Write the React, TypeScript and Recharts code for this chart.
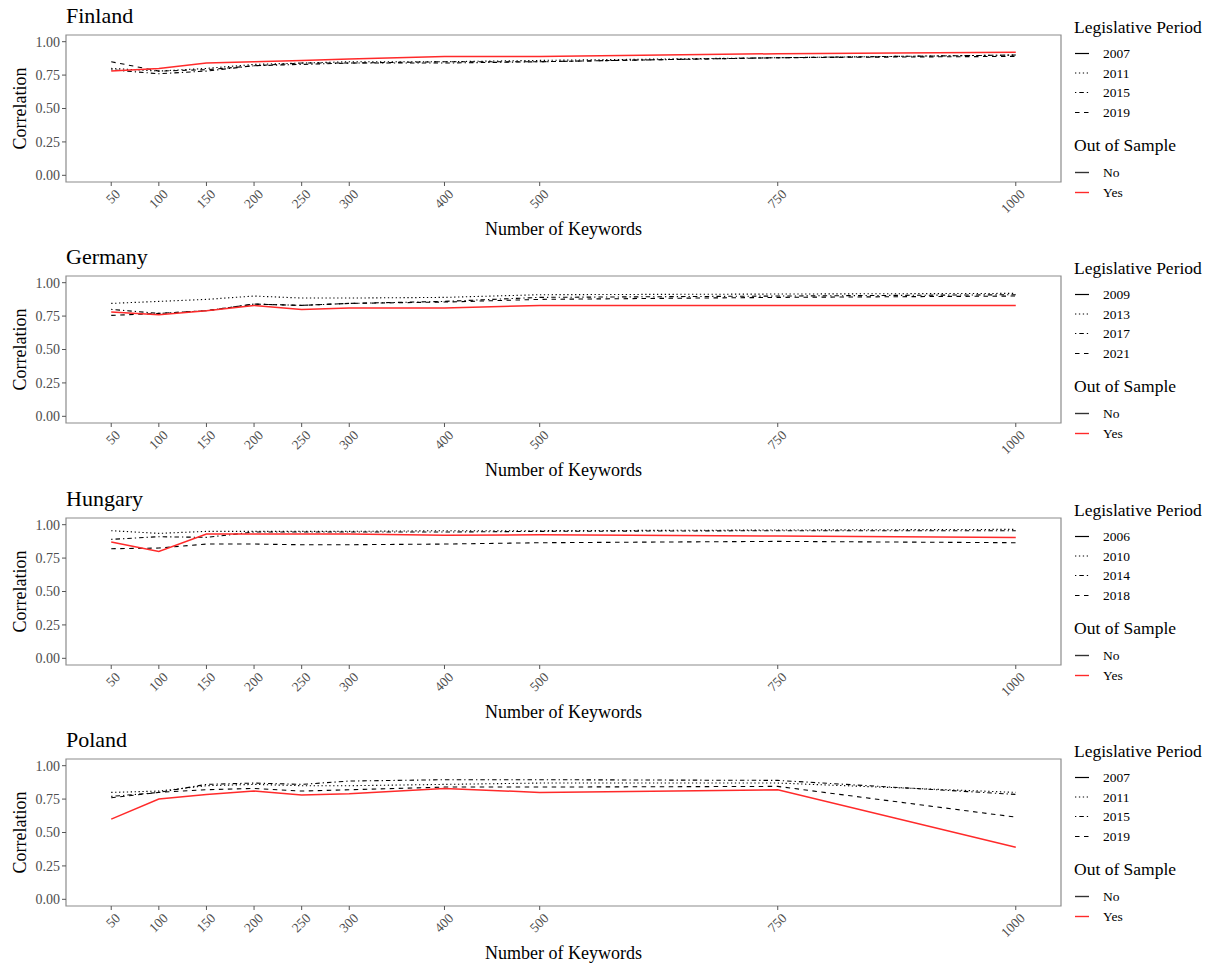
import React from "react";
import { LineChart, Line, XAxis, YAxis, ReferenceArea } from "recharts";

// Correlation by number of keywords, one panel per country.
const keywords = [50, 100, 150, 200, 250, 300, 400, 500, 750, 1000];
const yTicks = [0, 0.25, 0.5, 0.75, 1];

const finlandPeriods = ["2007", "2011", "2015", "2019"];
const finland2007 = [0.78, 0.8, 0.84, 0.85, 0.86, 0.87, 0.89, 0.89, 0.91, 0.92];
const finland2011 = [0.8, 0.78, 0.8, 0.83, 0.84, 0.85, 0.85, 0.86, 0.88, 0.9];
const finland2015 = [0.79, 0.76, 0.78, 0.82, 0.83, 0.84, 0.84, 0.85, 0.88, 0.9];
const finland2019 = [0.85, 0.78, 0.79, 0.82, 0.84, 0.84, 0.85, 0.85, 0.88, 0.89];

const germanyPeriods = ["2009", "2013", "2017", "2021"];
const germany2009 = [0.78, 0.76, 0.79, 0.83, 0.8, 0.81, 0.81, 0.83, 0.83, 0.83];
const germany2013 = [0.845, 0.86, 0.875, 0.9, 0.885, 0.885, 0.89, 0.91, 0.915, 0.92];
const germany2017 = [0.8, 0.77, 0.79, 0.84, 0.83, 0.845, 0.86, 0.89, 0.9, 0.91];
const germany2021 = [0.755, 0.77, 0.79, 0.84, 0.83, 0.845, 0.855, 0.875, 0.89, 0.9];

const hungaryPeriods = ["2006", "2010", "2014", "2018"];
const hungary2006 = [0.87, 0.8, 0.93, 0.93, 0.93, 0.93, 0.92, 0.925, 0.915, 0.905];
const hungary2010 = [0.955, 0.935, 0.95, 0.95, 0.95, 0.95, 0.955, 0.955, 0.96, 0.965];
const hungary2014 = [0.89, 0.91, 0.905, 0.945, 0.945, 0.945, 0.945, 0.95, 0.955, 0.955];
const hungary2018 = [0.82, 0.825, 0.855, 0.855, 0.85, 0.85, 0.855, 0.865, 0.875, 0.865];

const polandPeriods = ["2007", "2011", "2015", "2019"];
const poland2007 = [0.6, 0.75, 0.785, 0.81, 0.78, 0.79, 0.83, 0.8, 0.82, 0.39];
const poland2011 = [0.8, 0.81, 0.85, 0.86, 0.85, 0.85, 0.86, 0.87, 0.87, 0.8];
const poland2015 = [0.77, 0.8, 0.86, 0.87, 0.86, 0.885, 0.895, 0.895, 0.89, 0.785];
const poland2019 = [0.76, 0.8, 0.82, 0.83, 0.81, 0.82, 0.84, 0.84, 0.845, 0.615];

const panels = [
  { country: "Finland", periods: finlandPeriods, series: [finland2007, finland2011, finland2015, finland2019] },
  { country: "Germany", periods: germanyPeriods, series: [germany2009, germany2013, germany2017, germany2021] },
  { country: "Hungary", periods: hungaryPeriods, series: [hungary2006, hungary2010, hungary2014, hungary2018] },
  { country: "Poland", periods: polandPeriods, series: [poland2007, poland2011, poland2015, poland2019] },
];

const FONT = "'Liberation Serif', 'Times New Roman', serif";
const dashes = ["", "1.3 2.6", "1.3 3 4.5 3", "4.5 4.5"];
const panelTops = [0, 241, 483, 724];

function XTick(props: any) {
  const { x, y, payload } = props;
  return (
    <g transform={`translate(${x + 3},${y}) rotate(-45)`}>
      <text x={0} y={0} dy="0.72em" textAnchor="end" fontSize={13.5} fill="#4d4d4d" fontFamily={FONT}>
        {payload.value}
      </text>
    </g>
  );
}

function LegendBox({ periods }: { periods: string[] }) {
  const rowY = [53.5, 73, 92.5, 112.5];
  return (
    <svg width={147} height={210} style={{ position: "absolute", left: 1074, top: 0 }}>
      <text x={0} y={33} fontSize={17.5} fontFamily={FONT} fill="#000">Legislative Period</text>
      {periods.map((p, i) => (
        <g key={p}>
          <line x1={1} x2={15} y1={rowY[i]} y2={rowY[i]} stroke="#000" strokeWidth={1.2} strokeDasharray={dashes[i]} />
          <text x={29} y={rowY[i] + 4.5} fontSize={13.5} fontFamily={FONT} fill="#000">{p}</text>
        </g>
      ))}
      <text x={0} y={151} fontSize={17.5} fontFamily={FONT} fill="#000">Out of Sample</text>
      <line x1={1} x2={15} y1={172.5} y2={172.5} stroke="#333" strokeWidth={1.4} />
      <text x={29} y={177} fontSize={13.5} fontFamily={FONT} fill="#000">No</text>
      <line x1={1} x2={15} y1={192.5} y2={192.5} stroke="#ff2a2a" strokeWidth={1.4} />
      <text x={29} y={197} fontSize={13.5} fontFamily={FONT} fill="#000">Yes</text>
    </svg>
  );
}

function Panel({ country, periods, series, top }: any) {
  const data = keywords.map((k, i) => ({
    k,
    p0: series[0][i],
    p1: series[1][i],
    p2: series[2][i],
    p3: series[3][i],
  }));
  return (
    <div style={{ position: "absolute", left: 0, top, width: 1221, height: 241 }}>
      <div style={{ position: "absolute", left: 66, top: 3, fontFamily: FONT, fontSize: 22, color: "#000", lineHeight: "26px" }}>
        {country}
      </div>
      <LineChart width={1221} height={241} data={data} margin={{ top: 35, right: 160, left: 0, bottom: 0 }}>
        <XAxis
          dataKey="k"
          type="number"
          domain={[2.5, 1047.5]}
          ticks={keywords}
          allowDataOverflow
          axisLine={false}
          tickLine={{ stroke: "#555" }}
          tickSize={4}
          tickMargin={2}
          height={59}
          tick={<XTick />}
          interval={0}
          label={{ value: "Number of Keywords", position: "insideBottom", offset: 6, fontSize: 18, fill: "#000", fontFamily: FONT }}
        />
        <YAxis
          type="number"
          domain={[-0.05, 1.05]}
          ticks={yTicks}
          allowDataOverflow
          width={66}
          axisLine={false}
          tickLine={{ stroke: "#555" }}
          tickSize={4}
          tickMargin={2}
          interval={0}
          tickFormatter={(v: number) => v.toFixed(2)}
          tick={{ fontSize: 14, fill: "#4d4d4d", fontFamily: FONT }}
          label={{ value: "Correlation", angle: -90, position: "insideLeft", offset: 20, fontSize: 18, fill: "#000", fontFamily: FONT, style: { textAnchor: "middle" } }}
        />
        <ReferenceArea x1={2.5} x2={1047.5} y1={-0.05} y2={1.05} fill="none" stroke="#8c8c8c" strokeWidth={1.2} ifOverflow="visible" />
        {[3, 2, 1].map((i) => (
          <Line
            key={i}
            dataKey={`p${i}`}
            name={periods[i]}
            type="linear"
            stroke="#000"
            strokeWidth={1.1}
            strokeDasharray={dashes[i]}
            dot={false}
            activeDot={false}
            isAnimationActive={false}
          />
        ))}
        <Line
          dataKey="p0"
          name={periods[0]}
          type="linear"
          stroke="#ff2a2a"
          strokeWidth={1.5}
          dot={false}
          activeDot={false}
          isAnimationActive={false}
        />
      </LineChart>
      <LegendBox periods={periods} />
    </div>
  );
}

export default function App() {
  return (
    <div style={{ position: "absolute", left: 0, top: 0, width: 1221, height: 964, background: "#fff" }}>
      {panels.map((p, i) => (
        <Panel key={p.country} {...p} top={panelTops[i]} />
      ))}
    </div>
  );
}
